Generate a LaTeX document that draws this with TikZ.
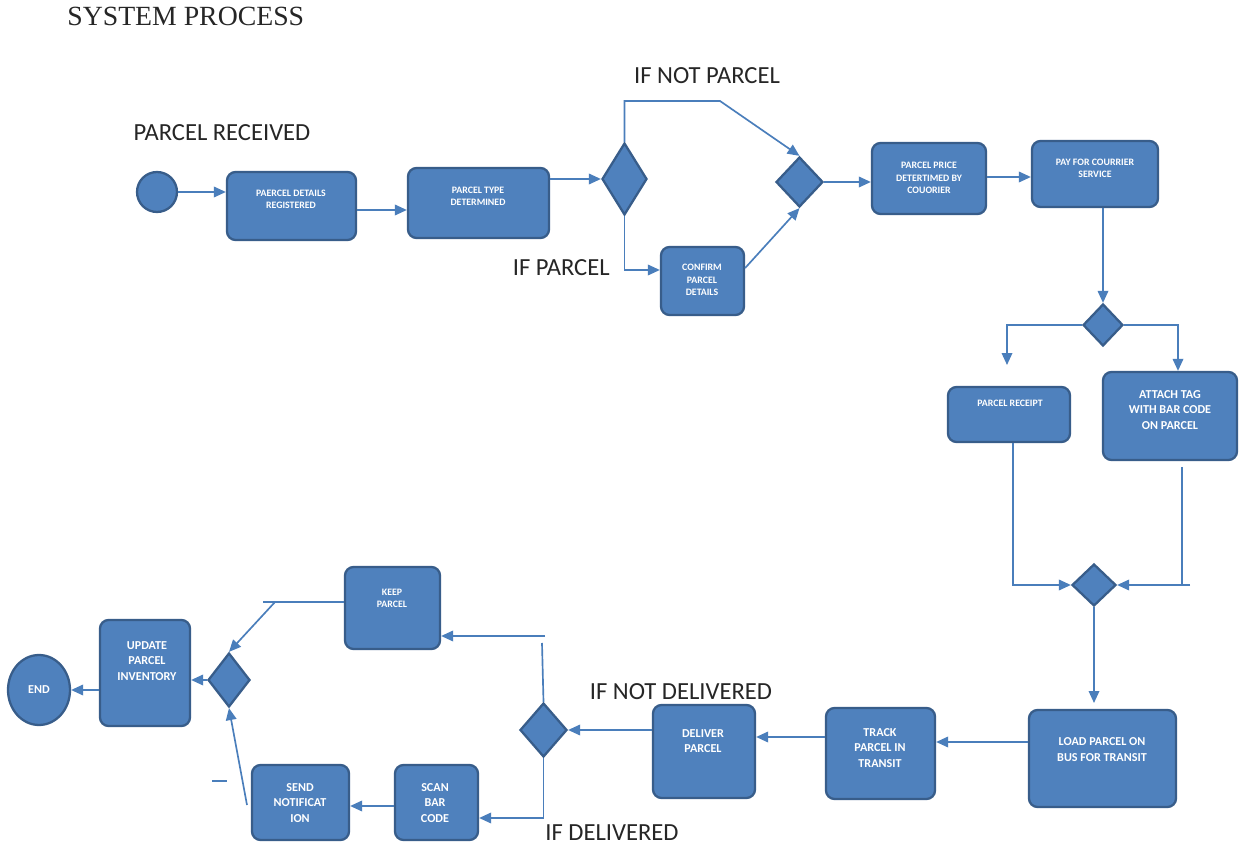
\documentclass[tikz,border=0pt]{standalone}
\usepackage{fontspec}
\setmainfont{Liberation Serif}
\newfontfamily\labfont{Carlito}
\usetikzlibrary{shapes.geometric,fit,arrows.meta}
\definecolor{boxfill}{RGB}{79,129,189}
\definecolor{boxline}{RGB}{56,93,138}
\definecolor{linkcol}{RGB}{74,126,187}
\definecolor{inkgray}{RGB}{38,38,38}
\begin{document}
\begin{tikzpicture}[x=0.02cm,y=-0.02cm,
  stepbox/.style={draw=boxline, fill=boxfill, line width=1.3pt, rounded corners=0.17cm, inner sep=0pt},
  gate/.style={diamond, draw=boxline, fill=boxfill, line width=1.3pt, inner sep=0pt},
  terminal/.style={ellipse, draw=boxline, fill=boxfill, line width=1.3pt, inner sep=0pt},
  smalltxt/.style={text=white, align=center, inner sep=0pt, font=\labfont\bfseries\fontsize{5.6}{7}\selectfont},
  bigtxt/.style={text=white, align=center, inner sep=0pt, font=\labfont\bfseries\fontsize{6.9}{8.8}\selectfont},
  flowlabel/.style={text=inkgray, inner sep=0pt, font=\labfont\fontsize{14}{16}\selectfont},
  conn/.style={draw=linkcol, line width=0.95pt, -{Triangle[length=6.8pt,width=6pt]}},
  plain/.style={draw=linkcol, line width=0.95pt},
]
% page
\useasboundingbox[fill=white] (0,0) rectangle (1242,844);

% heading and branch captions
\node[anchor=base west, inner sep=0pt, text=inkgray, font=\fontsize{15.8}{18}\selectfont] (title) at (67,26) {SYSTEM PROCESS};
\node[flowlabel, anchor=base] (lrecv) at (222,141) {PARCEL RECEIVED};
\node[flowlabel, anchor=base] (lnotp) at (707,84) {IF NOT PARCEL};
\node[flowlabel, anchor=base east] (lifp) at (610,276) {IF PARCEL};
\node[flowlabel, anchor=base] (lnotd) at (681,700) {IF NOT DELIVERED};
\node[flowlabel, anchor=base west] (lifd) at (545,840) {IF DELIVERED};

% top row
\node[terminal, circle, minimum size=0.8cm] (start) at (157,192) {};
\node[stepbox, fit={(227,172) (356,240)}] (reg) {};
\node[smalltxt] (regt) at (291,199) {PAERCEL DETAILS\\REGISTERED};
\node[stepbox, fit={(408,168) (549,238)}] (type) {};
\node[smalltxt] (typet) at (478,196.5) {PARCEL TYPE\\DETERMINED};
\node[gate, minimum width=0.9cm, minimum height=1.44cm] (q1) at (624.5,179) {};
\node[gate, minimum width=0.94cm, minimum height=1.0cm] (q2) at (799.5,182) {};
\node[stepbox, fit={(661,247) (744,315)}] (conf) {};
\node[smalltxt] (conft) at (702,280) {CONFIRM\\PARCEL\\DETAILS};
\node[stepbox, fit={(872,143) (986,214)}] (price) {};
\node[smalltxt] (pricet) at (929,178) {PARCEL PRICE\\DETERTIMED BY\\COUORIER};
\node[stepbox, fit={(1032,141) (1158,207)}] (pay) {};
\node[smalltxt] (payt) at (1095,168) {PAY FOR COURRIER\\SERVICE};

% right column
\node[gate, minimum width=0.8cm, minimum height=0.84cm] (q3) at (1103,325) {};
\node[stepbox, fit={(948,387) (1070,442)}] (rcpt) {};
\node[smalltxt] (rcptt) at (1010,403) {PARCEL RECEIPT};
\node[stepbox, fit={(1103,372) (1237,460)}] (tag) {};
\node[bigtxt] (tagt) at (1170,410) {ATTACH TAG\\WITH BAR CODE\\ON PARCEL};
\node[gate, minimum width=0.88cm, minimum height=0.84cm] (q4) at (1094,585) {};

% bottom row
\node[stepbox, fit={(1029,710) (1176,807)}] (load) {};
\node[bigtxt] (loadt) at (1102,749.5) {LOAD PARCEL ON\\BUS FOR TRANSIT};
\node[stepbox, fit={(826,708) (935,799)}] (track) {};
\node[bigtxt] (trackt) at (880,748) {TRACK\\PARCEL IN\\TRANSIT};
\node[stepbox, fit={(653,705) (755,798)}] (dlv) {};
\node[bigtxt] (dlvt) at (703,741) {DELIVER\\PARCEL};
\node[gate, minimum width=0.94cm, minimum height=1.08cm] (q5) at (543.5,730) {};
\node[stepbox, fit={(345,567) (440,649)}] (keep) {};
\node[smalltxt] (keept) at (392,598) {KEEP\\PARCEL};
\node[stepbox, fit={(395,765) (478,840)}] (scan) {};
\node[bigtxt] (scant) at (435,803) {SCAN\\BAR\\CODE};
\node[stepbox, fit={(252,765) (349,840)}] (send) {};
\node[bigtxt] (sendt) at (300,803) {SEND\\NOTIFICAT\\ION};
\node[gate, minimum width=0.84cm, minimum height=1.08cm] (q6) at (229,680) {};
\node[stepbox, fit={(100,620) (190,726)}] (upd) {};
\node[bigtxt] (updt) at (147,661) {UPDATE\\PARCEL\\INVENTORY};
\node[terminal, minimum width=1.24cm, minimum height=1.4cm, text=white,
      font=\labfont\bfseries\fontsize{6.9}{8.8}\selectfont] (fin) at (39,690) {END};

% connectors, top row
\draw[conn] (start.east) -- (start.east -| reg.west);
\draw[conn] (reg.east |- 0,210) -- (type.west |- 0,210);
\draw[conn] (type.east |- q1.west) -- (q1.west);
\coordinate (k1) at (720,101);
\draw[conn] (q1.north) |- (k1) -- (q2.north);
\draw[conn] (q1.south) |- (conf.west |- 0,270);
\draw[conn] (conf.east |- 0,268) -- (q2.south);
\draw[conn] (q2.east) -- (q2.east -| price.west);
\draw[conn] (price.east |- 0,177) -- (pay.west |- 0,177);

% connectors, right column
\draw[conn] (q3.north |- pay.south) -- (q3.north);
\coordinate (rdrop) at (1007,365);
\draw[conn] (q3.west) -| (rdrop);
\draw[conn] (q3.east) -| (tag.north -| 1178,0);
\draw[conn] (rcpt.south -| 1013,0) |- (q4.west);
\coordinate (tagfoot) at (1182,467);
\coordinate (tagjoin) at (1190,585);
\draw[plain] (tagfoot) |- (tagjoin);
\draw[conn] (tagjoin) -- (q4.east);
\draw[conn] (q4.south) -- (q4.south |- 0,703);

% connectors, bottom row
\draw[conn] (load.west |- 0,742) -- (track.east |- 0,742);
\draw[conn] (track.west |- 0,737) -- (dlv.east |- 0,737);
\draw[conn] (dlv.west |- q5.east) -- (q5.east);
\coordinate (q5up) at (542,643);
\draw[plain] (q5.north) -- (q5up);
\coordinate (keepin) at (545,636);
\draw[conn] (keepin) -- (keepin -| keep.east);
\draw[conn] (q5.south) |- (scan.east |- 0,818);
\draw[conn] (scan.west |- 0,806) -- (send.east |- 0,806);
\coordinate (sendfoot) at (247,805);
\draw[conn] (sendfoot) -- (q6.south);
\coordinate (kbend) at (275,602);
\coordinate (kstub) at (263,602);
\draw[plain] (keep.west |- kbend) -- (kstub);
\draw[conn] (kbend) -- (q6.north);
\draw[conn] (q6.west) -- (q6.west -| upd.east);
\draw[conn] (upd.west |- fin.east) -- (fin.east);
\coordinate (dashl) at (212,781);
\coordinate (dashr) at (227,781);
\draw[plain] (dashl) -- (dashr);
\end{tikzpicture}
\end{document}
